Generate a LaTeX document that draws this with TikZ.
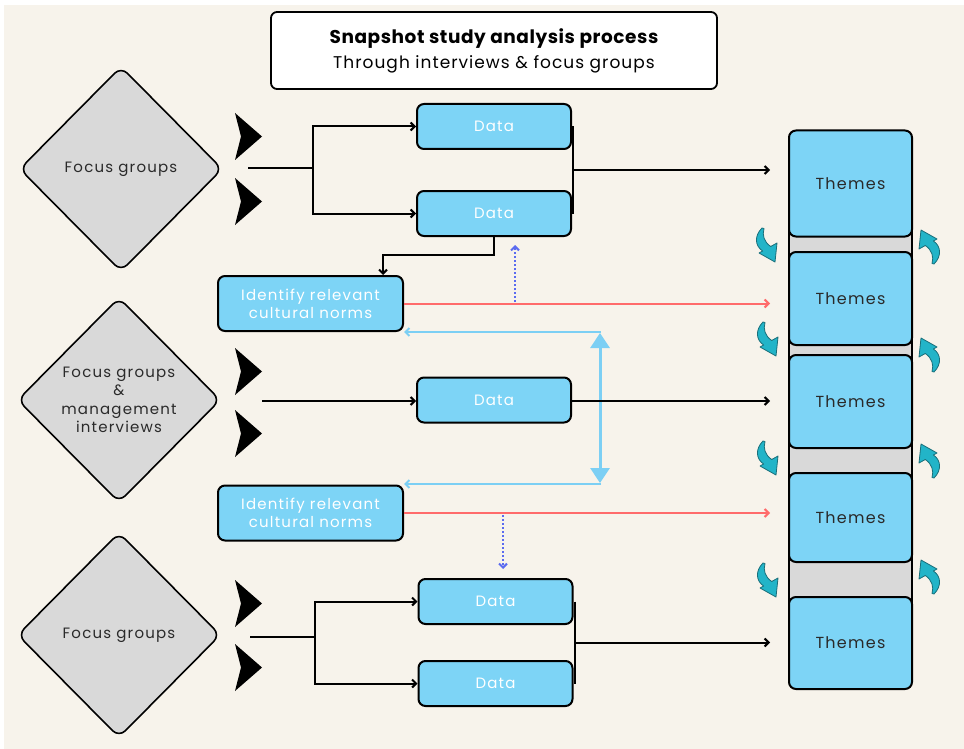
\documentclass[tikz,border=0pt]{standalone}
\usepackage{fontspec}
\setmainfont{Poppins}
\newfontfamily\lsfont{Poppins}[LetterSpace=8]
\usetikzlibrary{shapes.geometric,arrows.meta,calc}
\definecolor{bgc}{HTML}{F7F3EB}
\definecolor{boxblue}{HTML}{7DD4F6}
\definecolor{dgray}{HTML}{D9D9D9}
\definecolor{redl}{HTML}{FF6B6B}
\definecolor{lblue}{HTML}{7CCFF4}
\definecolor{dotblue}{HTML}{5B6BF0}
\definecolor{tealc}{HTML}{22B4C8}
\definecolor{tealdk}{HTML}{1A6F7A}
\definecolor{txtd}{HTML}{2A2A2A}
\tikzset{
  databox/.style={draw=black, line width=2pt, fill=boxblue, rounded corners=7pt,
    minimum width=154pt, minimum height=45pt, text=white, inner sep=0pt,
    font=\lsfont\fontsize{15}{18}\selectfont},
  normbox/.style={databox, minimum width=185pt, minimum height=55pt, align=center},
  themebox/.style={draw=black, line width=2pt, fill=boxblue, rounded corners=7pt,
    minimum width=123pt, text=txtd, inner sep=0pt,
    font=\lsfont\fontsize{16}{18}\selectfont},
  diam/.style={diamond, draw=black, line width=1.6pt, fill=dgray, rounded corners=9pt,
    minimum width=203pt, minimum height=205pt, inner sep=0pt, align=center, text=txtd,
    font=\lsfont\fontsize{15}{18.5}\selectfont},
  conn/.style={draw=black, line width=2pt},
  arr/.style={conn, -{Straight Barb[length=4pt,width=8pt]}},
  redarr/.style={draw=redl, line width=2pt, -{Straight Barb[length=4pt,width=8pt]}},
  lbarr/.style={draw=lblue, line width=2pt, -{Straight Barb[length=4pt,width=8pt]}},
  dotarr/.style={draw=dotblue, line width=2pt, dash pattern=on 2pt off 2pt, -{Straight Barb[length=4pt,width=8pt]}},
  chev/.pic={\fill[black] (0,0) -- (27,23.5) -- (0,47) -- (6,23.5) -- cycle;},
  curv/.pic={
    \filldraw[fill=tealc, draw=tealdk, line width=0.8pt, line join=round]
      (5,0) .. controls (-3,8) and (-2,18) .. (5.6,23) -- (2,25) -- (18,34) -- (20,15)
      -- (13.7,18.5) .. controls (7,14) and (5,7) .. (7,0.5) -- cycle;}
}
\begin{document}
\begin{tikzpicture}[x=1pt,y=-1pt]
\useasboundingbox (0,0) rectangle (964,749);
\fill[white] (0,0) rectangle (964,749);
\fill[bgc] (4,5) rectangle (964,749);

% title
\node[draw=black, line width=1.8pt, fill=white, rounded corners=6pt, minimum width=446pt,
  minimum height=77pt, align=center, inner sep=0pt, text=black] (title) at (494,50.5)
  {{\fontsize{18.5}{22}\selectfont\bfseries\addfontfeature{LetterSpace=3}Snapshot study analysis process}\\[6pt]
   {\fontsize{17}{20}\selectfont\addfontfeature{LetterSpace=6}Through interviews \& focus groups}};

% diamonds
\node[diam] (dm1) at (121,169) {Focus groups};
\node[diam] (dm2) at (119,400) {Focus groups\\\&\\management\\interviews};
\node[diam] (dm3) at (119,635) {Focus groups};

% chevrons
\pic at (235,113) {chev};
\pic at (235,178) {chev};
\pic at (235,348) {chev};
\pic at (235,410) {chev};
\pic at (235,580) {chev};
\pic at (235,644) {chev};

% themes column
\draw[fill=dgray, line width=1.6pt] (789,225) rectangle (912,605);
\node[themebox, minimum height=106pt] (th1) at (850.5,183.5) {Themes};
\node[themebox, minimum height=93pt] (th2) at (850.5,298.5) {Themes};
\node[themebox, minimum height=93pt] (th3) at (850.5,401.5) {Themes};
\node[themebox, minimum height=89pt] (th4) at (850.5,517.5) {Themes};
\node[themebox, minimum height=92pt] (th5) at (850.5,643) {Themes};

% data boxes
\node[databox] (da1) at (494,126.5) {Data};
\node[databox] (da2) at (494,213.5) {Data};
\node[databox] (da3) at (494,400) {Data};
\node[databox] (da4) at (495.5,601.5) {Data};
\node[databox] (da5) at (495.5,683.5) {Data};
\node[normbox] (nm1) at (310.5,303.5) {Identify relevant\\cultural norms};
\node[normbox] (nm2) at (310.5,513) {Identify relevant\\cultural norms};

% group 1
\coordinate (s1) at (248,168);
\coordinate (b1) at (313,168);
\draw[conn] (s1) -- (b1);
\draw[arr] (b1) |- (da1.west);
\draw[arr] (b1) |- (da2.west);
\draw[conn] ([xshift=1pt]da1.east) -- ([xshift=1pt]da2.east);
\coordinate (m1) at ($(da1.east)!0.5!(da2.east)+(1,0)$);
\coordinate (e1) at (770,170);
\draw[arr] (m1) -- (e1 |- m1);

% data2 to norms1
\coordinate (k1) at (383,255);
\draw[arr] (da2.south) |- (k1) -- (k1 |- nm1.north);

% red line 1 and dotted up
\coordinate (e2) at (770,303.5);
\draw[redarr] (nm1.east) -- (e2);
\coordinate (p1) at (515,302);
\coordinate (q1) at (515,245);
\draw[dotarr] (p1) -- (q1);

% light blue arrows
\coordinate (v1) at (601,332);
\coordinate (v2) at (601,484);
\draw[lbarr] (v1) -- (v1 -| nm1.east);
\draw[lbarr] (v2) -- (v2 -| nm2.east);
\draw[draw=lblue, line width=3pt, {Triangle[length=15pt,width=19pt]}-{Triangle[length=15pt,width=19pt]}] (600,333) -- (600,483);

% group 2
\coordinate (s2) at (262,401);
\draw[arr] (s2) -- (s2 -| da3.west);
\coordinate (e3) at (770,401);
\draw[arr] (da3.east |- e3) -- (e3);

% red line 2 and dotted down
\coordinate (e4) at (770,513);
\draw[redarr] (nm2.east) -- (e4);
\coordinate (p2) at (503,515);
\coordinate (q2) at (503,569);
\draw[dotarr] (p2) -- (q2);

% group 3
\coordinate (s3) at (250,637);
\coordinate (b3) at (315,637);
\draw[conn] (s3) -- (b3);
\draw[arr] (b3) |- (da4.west);
\draw[arr] (b3) |- (da5.west);
\draw[conn] ([xshift=1pt]da4.east) -- ([xshift=1pt]da5.east);
\coordinate (m3) at ($(da4.east)!0.5!(da5.east)+(1,0)$);
\coordinate (e5) at (770,643);
\draw[arr] (m3) -- (e5 |- m3);

% curved arrows
\pic at (757,228) {curv};
\pic at (758,322) {curv};
\pic at (758,441) {curv};
\pic at (758,563) {curv};
\pic[rotate=180] at (939,264) {curv};
\pic[rotate=180] at (939,372) {curv};
\pic[rotate=180] at (939,478) {curv};
\pic[rotate=180] at (939,594) {curv};
\end{tikzpicture}
\end{document}
